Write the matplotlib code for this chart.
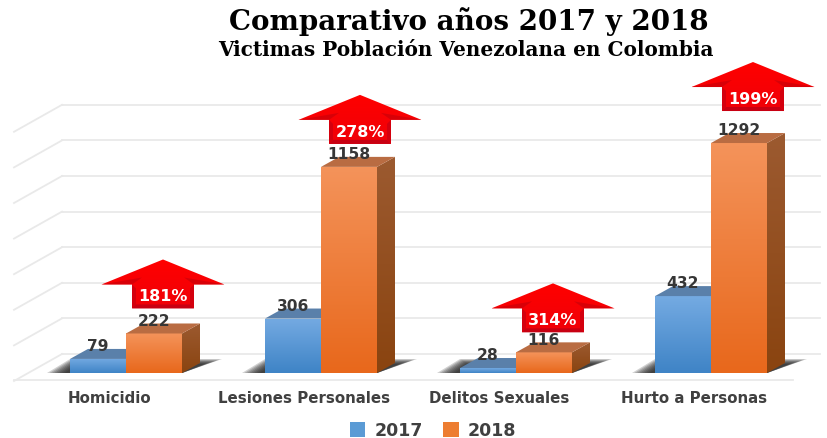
import numpy as np
import matplotlib
matplotlib.use("Agg")
import matplotlib.pyplot as plt
from matplotlib.colors import LinearSegmentedColormap
from matplotlib.patches import Patch, Polygon

categories = ["Homicidio", "Lesiones Personales", "Delitos Sexuales", "Hurto a Personas"]
values_2017 = [79, 306, 28, 432]
values_2018 = [222, 1158, 116, 1292]
changes = ["181%", "278%", "314%", "199%"]
grid_values = [0, 200, 400, 600, 800, 1000, 1200, 1400]

W, H = 828, 439
PX_X = 195.0     # px per category
PX_Y = 0.178     # px per value
X0, Y0 = 126, 374

fig = plt.figure(figsize=(W / 100, H / 100), dpi=100)
ax = fig.add_axes([0, 0, 1, 1])
ax.set_xlim(-X0 / PX_X, (W - X0) / PX_X)
ax.set_ylim((Y0 - H) / PX_Y, Y0 / PX_Y)
ax.set_autoscale_on(False)
ax.axis("off")


def dx(px):
    return px / PX_X


def dy(px):
    return px / PX_Y


bar_w = dx(56)
depth_x, depth_y = dx(18), dy(10)

# walls and floor
wall_dy = dy(19)
for v in grid_values:
    y = v + wall_dy
    ax.plot([dx(62 - X0), dx(820 - X0)], [y, y], color="#e9e9e9", lw=1.3, zorder=1)
    ax.plot([dx(14 - X0), dx(62 - X0)], [y - dy(27), y], color="#e9e9e9", lw=1.3, zorder=1)
ax.plot([dx(14 - X0), dx(793 - X0)], [wall_dy - dy(26), wall_dy - dy(26)], color="#e9e9e9", lw=1.3, zorder=1)


def gradient(x0, x1, y0, y1, c_top, c_bottom, clip, z):
    cmap = LinearSegmentedColormap.from_list("g", [c_bottom, c_top])
    im = ax.imshow(np.linspace(1, 0, 64).reshape(-1, 1), extent=[x0, x1, y0, y1], aspect="auto",
                   cmap=cmap, vmin=0, vmax=1, zorder=z, interpolation="bilinear")
    patch = Polygon(clip, closed=True, transform=ax.transData, fc="none", ec="none")
    ax.add_patch(patch)
    im.set_clip_path(patch)


def bar3d(x, v, front_top, front_bottom, top, side_top, side_bottom, z):
    front = [(x, 0), (x + bar_w, 0), (x + bar_w, v), (x, v)]
    side = [(x + bar_w, 0), (x + bar_w + depth_x, depth_y), (x + bar_w + depth_x, v + depth_y), (x + bar_w, v)]
    roof = [(x, v), (x + bar_w, v), (x + bar_w + depth_x, v + depth_y), (x + depth_x, v + depth_y)]
    gradient(x, x + bar_w, 0, v, front_top, front_bottom, front, z)
    gradient(x + bar_w, x + bar_w + depth_x, 0, v + depth_y, side_top, side_bottom, side, z)
    ax.add_patch(Polygon(roof, closed=True, fc=top, ec="none", zorder=z))


for i in range(len(categories)):
    # soft shadow on the floor, darkest next to the bars
    for k in range(8):
        ins = k * 2.5
        ax.add_patch(Polygon([(i + dx(-79 + ins), 0), (i + dx(56), 0),
                              (i + dx(96 - ins), dy(14 - k * 0.7)), (i + dx(-56 + ins * 0.4), dy(14 - k * 0.7))],
                             closed=True, fc="#1c1c1c", ec="none", alpha=0.2, zorder=2))
    bar3d(i - bar_w, values_2017[i], "#74aae2", "#3f84c6", "#5a80aa", "#3d6a9a", "#2e5580", 3)
    bar3d(i, values_2018[i], "#f4935a", "#e8681c", "#b96c42", "#9c5a30", "#8a4410", 4)
    ax.annotate(str(values_2017[i]), (i - bar_w / 2, values_2017[i]), xytext=(0, 9.5),
                textcoords="offset points", ha="center", va="center", fontsize=11.2,
                fontweight="bold", color="#363636", zorder=6)
    ax.annotate(str(values_2018[i]), (i + bar_w / 2, values_2018[i]), xytext=(0, 9.5),
                textcoords="offset points", ha="center", va="center", fontsize=11.2,
                fontweight="bold", color="#363636", zorder=6)
    ax.text(i + dx(-17), dy(-25), categories[i], ha="center", va="center",
            fontsize=10.8, fontweight="bold", color="#404040", zorder=6)

# red arrows, placed over each 2018 bar
arrow_gaps = [25, 23, 20, 32]
arrow_shift = [37, 39, 37, 42]
for i, change in enumerate(changes):
    cx = i + dx(arrow_shift[i])
    base = values_2018[i] + dy(arrow_gaps[i])
    hw, sw, neck, tall = dx(61.5), dx(31), dy(24), dy(49)
    outline = [(cx - sw, base), (cx + sw, base), (cx + sw, base + neck), (cx + hw, base + neck),
               (cx, base + tall), (cx - hw, base + neck), (cx - sw, base + neck)]
    gradient(cx - hw, cx + hw, base, base + tall, "#ff0000", "#f00008", outline, 7)
    # bevel along the stem and under the wings
    ax.add_patch(Polygon([(cx - sw, base), (cx + sw, base), (cx + sw - dx(4), base + dy(4)), (cx - sw + dx(4), base + dy(4))],
                         closed=True, fc="#c80012", ec="none", zorder=7))
    for side in (-1, 1):
        ax.add_patch(Polygon([(cx + side * sw, base), (cx + side * (sw - dx(4)), base + dy(4)),
                              (cx + side * (sw - dx(4)), base + neck - dy(4)), (cx + side * sw, base + neck)],
                             closed=True, fc="#d4000e", ec="none", zorder=7))
        ax.add_patch(Polygon([(cx + side * hw, base + neck), (cx + side * sw, base + neck),
                              (cx + side * (sw - dx(10)), base + neck + dy(7))],
                             closed=True, fc="#c4000a", ec="none", alpha=0.6, zorder=7))
    ax.text(cx, base + dy(12.5), change, ha="center", va="center", color="white",
            fontsize=11.5, fontweight="bold", zorder=8)

fig.text(469 / W, 1 - 22 / H, "Comparativo años 2017 y 2018", ha="center", va="center",
         family="DejaVu Serif", fontweight="bold", fontsize=20, color="black")
fig.text(466 / W, 1 - 50 / H, "Victimas Población Venezolana en Colombia", ha="center", va="center",
         family="DejaVu Serif", fontweight="bold", fontsize=14.4, color="black")

handles = [Patch(fc="#5b9bd5", label="2017"), Patch(fc="#ed7d31", label="2018")]
fig.legend(handles=handles, loc="center", bbox_to_anchor=(433 / W, 1 - 431.5 / H), ncol=2,
           frameon=False, prop={"weight": "bold", "size": 12.5}, labelcolor="#404040",
           handlelength=0.9, handleheight=0.9, handletextpad=0.5, columnspacing=1.2,
           borderpad=0, borderaxespad=0)

fig.savefig("out.png", dpi=100)
